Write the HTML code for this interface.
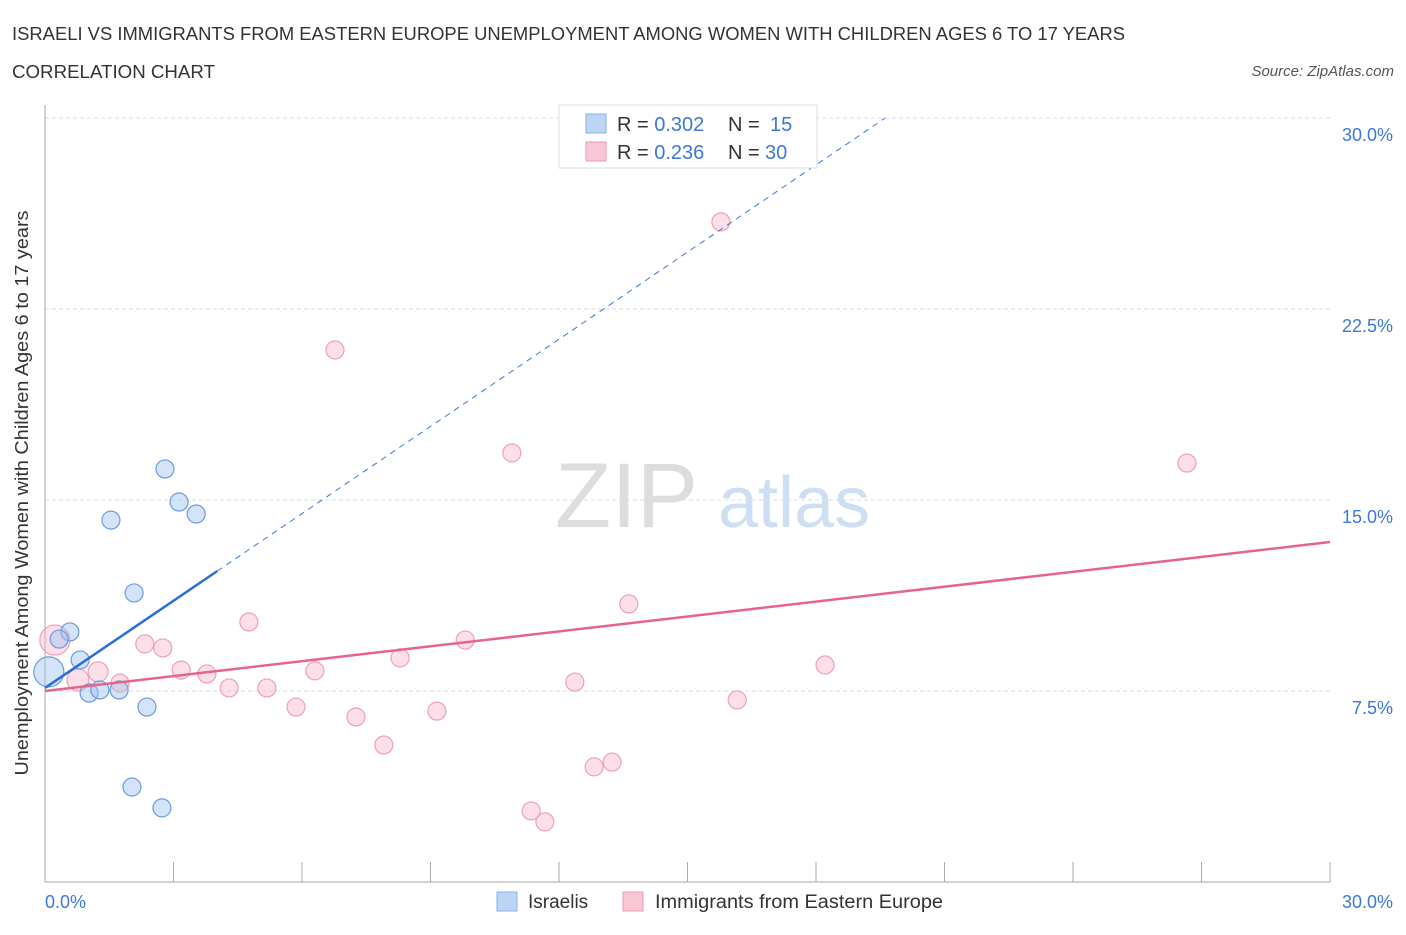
<!DOCTYPE html>
<html><head><meta charset="utf-8"><style>
body{margin:0;background:#fff;font-family:"Liberation Sans",sans-serif;}
svg text{font-family:"Liberation Sans",sans-serif;}
</style></head><body>
<svg width="1406" height="930">
<text x="12" y="40" font-size="18" fill="#333" textLength="1113" lengthAdjust="spacingAndGlyphs">ISRAELI VS IMMIGRANTS FROM EASTERN EUROPE UNEMPLOYMENT AMONG WOMEN WITH CHILDREN AGES 6 TO 17 YEARS</text>
<text x="12" y="78" font-size="18" fill="#333" textLength="203" lengthAdjust="spacingAndGlyphs">CORRELATION CHART</text>
<text x="1394" y="76" font-size="15" fill="#555" font-style="italic" text-anchor="end">Source: ZipAtlas.com</text>
<text x="28" y="493" font-size="18" fill="#333" text-anchor="middle" textLength="565" lengthAdjust="spacingAndGlyphs" transform="rotate(-90 28 493)">Unemployment Among Women with Children Ages 6 to 17 years</text>
<text x="555" y="527" font-size="92" fill="#ddd" font-family="Liberation Serif">ZIP</text>
<text x="718" y="527" font-size="72" fill="#cfdff3">atlas</text>
<g id="grid"></g><g id="axes"></g><g id="marks"></g>
<g>
<rect x="559" y="105" width="258" height="63" fill="#fff" stroke="#ddd"/>
<rect x="586" y="114" width="20" height="19" fill="#bcd5f5" stroke="#8ab2e6"/>
<rect x="586" y="142" width="20" height="19" fill="#f9c6d5" stroke="#ec9ab4"/>
<text x="617" y="131" font-size="20" fill="#333">R = <tspan fill="#3b78d8">0.302</tspan><tspan x="728">N = </tspan><tspan x="770" fill="#3b78d8">15</tspan></text>
<text x="617" y="159" font-size="20" fill="#333">R = <tspan fill="#3b78d8">0.236</tspan><tspan x="728">N = </tspan><tspan x="765" fill="#3b78d8">30</tspan></text>
</g>
<g>
<rect x="497" y="892" width="20" height="19" fill="#bcd5f5" stroke="#8ab2e6"/>
<text x="528" y="908" font-size="19" fill="#333">Israelis</text>
<rect x="623" y="892" width="20" height="19" fill="#f9c6d5" stroke="#ec9ab4"/>
<text x="655" y="908" font-size="19" fill="#333" textLength="288" lengthAdjust="spacingAndGlyphs">Immigrants from Eastern Europe</text>
</g>
</svg>
<script>
const yTicks=[7.5,15,22.5,30];
const yTickLabels=["7.5%","15.0%","22.5%","30.0%"];
const blueX=[2.80,3.13,3.53,1.54,2.08,0.58,0.33,0.82,0.09,1.03,1.28,1.73,2.38,2.03,2.73];
const blueY=[16.22,14.92,14.45,14.21,11.35,9.82,9.54,8.72,8.25,7.42,7.54,7.54,6.87,3.73,2.91];
const blueR=[9,9,9,9,9,9,9,9,15,9,9,9,9,9,9];
const pinkX=[15.78,6.77,10.90,26.66,13.63,4.76,9.81,2.33,2.75,8.29,18.21,3.18,6.30,3.78,1.24,0.23,0.77,1.75,4.30,5.18,12.37,16.16,5.86,7.26,9.15,7.91,13.24,12.82,11.35,11.67];
const pinkY=[25.92,20.89,16.85,16.45,10.92,10.21,9.50,9.35,9.19,8.80,8.52,8.32,8.29,8.17,8.25,9.50,7.93,7.81,7.62,7.62,7.85,7.15,6.87,6.48,6.71,5.38,4.71,4.52,2.79,2.36];
const pinkR=[9,9,9,9,9,9,9,9,9,9,9,9,9,9,10,15,11,9,9,9,9,9,9,9,9,9,9,9,9,9];
const blueTrend=[7.62,1.141], pinkTrend=[7.50,0.195];
const NS="http://www.w3.org/2000/svg";
const sx=v=>45+v/30*1285, sy=v=>882-v/30*764;
function mk(t,a,p){const e=document.createElementNS(NS,t);for(const k in a)e.setAttribute(k,a[k]);document.getElementById(p).appendChild(e);return e;}
yTicks.forEach((t,i)=>{
 const l=mk('line',{x1:45,x2:1330,y1:sy(t),y2:sy(t),stroke:'#ddd','stroke-dasharray':'4,3'},'grid');
 
 
 const tx=mk('text',{x:1393,y:sy(t)+23,'font-size':18,fill:'#3b78d8','text-anchor':'end'},'grid');
 tx.textContent=yTickLabels[i];
 
 
});
mk('line',{x1:45,x2:45,y1:105,y2:882,stroke:'#aaa'},'axes');
mk('line',{x1:45,x2:1330,y1:882,y2:882,stroke:'#aaa'},'axes');
for(let i=1;i<=10;i++){mk('line',{x1:45+i*128.5,x2:45+i*128.5,y1:862,y2:882,stroke:'#aaa'},'axes');}
let t0=mk('text',{x:45,y:908,'font-size':18,fill:'#3b78d8'},'axes');t0.textContent='0.0%';


let t1=mk('text',{x:1393,y:908,'font-size':18,fill:'#3b78d8','text-anchor':'end'},'axes');t1.textContent='30.0%';


pinkX.forEach((x,i)=>{const c=mk('circle',{cx:sx(x),cy:sy(pinkY[i]),r:pinkR[i],fill:'rgba(247,175,198,0.4)',stroke:'#eea0b8','stroke-width':1.2},'marks');
 
 });
blueX.forEach((x,i)=>{const c=mk('circle',{cx:sx(x),cy:sy(blueY[i]),r:blueR[i],fill:'rgba(160,195,240,0.45)',stroke:'#6a9be0','stroke-width':1.2},'marks');
 
 });
const bEnd=(30-blueTrend[0])/blueTrend[1];
let bl=mk('line',{x1:sx(4.02),y1:sy(blueTrend[0]+blueTrend[1]*4.02),x2:sx(bEnd),y2:sy(30),stroke:'#3b78d8','stroke-dasharray':'6,5'},'marks');


let bs=mk('line',{x1:sx(0),y1:sy(blueTrend[0]),x2:sx(4.02),y2:sy(blueTrend[0]+blueTrend[1]*4.02),stroke:'#2a6fd6','stroke-width':2.5},'marks');


let pl=mk('line',{x1:sx(0),y1:sy(pinkTrend[0]),x2:sx(30),y2:sy(pinkTrend[0]+pinkTrend[1]*30),stroke:'#e8628f','stroke-width':2.5},'marks');


</script>
</body></html>
